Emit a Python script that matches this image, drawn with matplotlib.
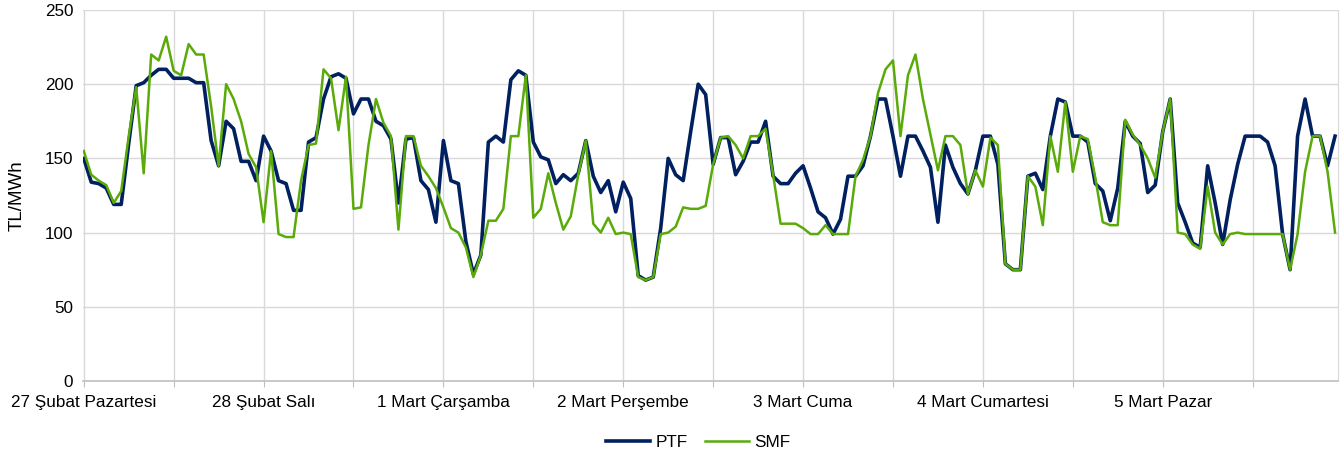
import matplotlib
matplotlib.use('Agg')
import matplotlib.pyplot as plt
import numpy as np

plt.rcParams['font.family'] = ['Liberation Sans', 'DejaVu Sans']

days = ['27 Şubat Pazartesi', '28 Şubat Salı', '1 Mart Çarşamba', '2 Mart Perşembe',
        '3 Mart Cuma', '4 Mart Cumartesi', '5 Mart Pazar']

# hourly values, 7 days x 24 hours
ptf = [150, 134, 133, 130, 119, 119, 160, 199, 201, 206, 210, 210, 204, 204, 204, 201, 201, 162, 145, 175, 170, 148, 148, 135,
       165, 155, 135, 133, 115, 115, 161, 164, 190, 205, 207, 204, 180, 190, 190, 175, 172, 163, 120, 163, 164, 135, 129, 107,
       162, 135, 133, 94, 72, 85, 161, 165, 161, 203, 209, 206, 161, 151, 149, 133, 139, 135, 140, 162, 138, 127, 135, 114,
       134, 123, 71, 68, 70, 103, 150, 139, 135, 168, 200, 193, 146, 164, 164, 139, 148, 161, 161, 175, 138, 133, 133, 140,
       145, 130, 114, 110, 99, 109, 138, 138, 145, 165, 190, 190, 165, 138, 165, 165, 155, 144, 107, 159, 144, 133, 126, 142,
       165, 165, 146, 79, 75, 75, 138, 140, 129, 165, 190, 188, 165, 165, 161, 133, 128, 108, 130, 175, 165, 160, 127, 132,
       168, 190, 120, 107, 93, 90, 145, 120, 92, 122, 146, 165, 165, 165, 161, 145, 99, 75, 165, 190, 165, 165, 145, 165]

smf = [155, 139, 135, 132, 120, 128, 165, 198, 140, 220, 216, 232, 209, 206, 227, 220, 220, 185, 145, 200, 190, 175, 153, 144,
       107, 155, 99, 97, 97, 135, 159, 160, 210, 204, 169, 205, 116, 117, 159, 190, 174, 165, 102, 165, 165, 145, 138, 130,
       117, 103, 100, 90, 70, 85, 108, 108, 116, 165, 165, 206, 110, 116, 140, 120, 102, 111, 139, 162, 106, 100, 110, 99,
       100, 99, 70, 68, 70, 99, 100, 104, 117, 116, 116, 118, 146, 164, 165, 159, 150, 165, 165, 170, 139, 106, 106, 106,
       103, 99, 99, 105, 99, 99, 99, 138, 149, 165, 194, 210, 216, 165, 206, 220, 190, 166, 142, 165, 165, 159, 126, 142,
       131, 164, 159, 79, 75, 75, 138, 131, 105, 165, 141, 188, 141, 165, 163, 137, 107, 105, 105, 176, 166, 159, 150, 137,
       168, 190, 100, 99, 92, 89, 131, 100, 92, 99, 100, 99, 99, 99, 99, 99, 99, 75, 99, 141, 165, 165, 141, 100]

hours = np.arange(len(ptf))

fig = plt.figure(figsize=(13.41, 4.54), dpi=100)
ax = fig.add_axes([0.0619, 0.1608, 0.9359, 0.8172])

grid_col = '#D9D9D9'
ax.set_yticks(np.arange(0, 251, 50))
ax.set_ylim(0, 250)
ax.set_xlim(-0.1, 167.4)
for v in range(50, 251, 50):
    ax.axhline(v, color=grid_col, lw=1.0, zorder=0)
for h in range(0, 168, 12):
    ax.axvline(h, color=grid_col, lw=1.0, zorder=0)

ax.plot(hours, ptf, color='#002060', lw=2.6, label='PTF', zorder=3)
ax.plot(hours, smf, color='#5AAA0A', lw=1.8, label='SMF', zorder=4)

for s in ['top', 'left']:
    ax.spines[s].set_visible(False)
ax.spines['right'].set_color(grid_col)
ax.spines['bottom'].set_color('#BFBFBF')
ax.spines['bottom'].set_linewidth(1.2)

ticks = list(range(0, 168, 12))
labels = [days[t // 24] if t % 24 == 0 else '' for t in ticks]
ax.set_xticks(ticks)
ax.set_xticklabels(labels, fontsize=12.3)
ax.tick_params(axis='x', length=4, color='#BFBFBF', pad=6)
ax.tick_params(axis='y', length=0, labelsize=12.3, pad=7)

ax.set_ylabel('TL/MWh', fontsize=13.5)
ax.yaxis.set_label_coords(-0.046, 0.5)
ax.legend(loc='upper center', bbox_to_anchor=(0.49, -0.105), ncol=2, frameon=False,
          fontsize=12.3, handlelength=2.6, columnspacing=1.0, handletextpad=0.3)

fig.savefig('out.png', dpi=100)
